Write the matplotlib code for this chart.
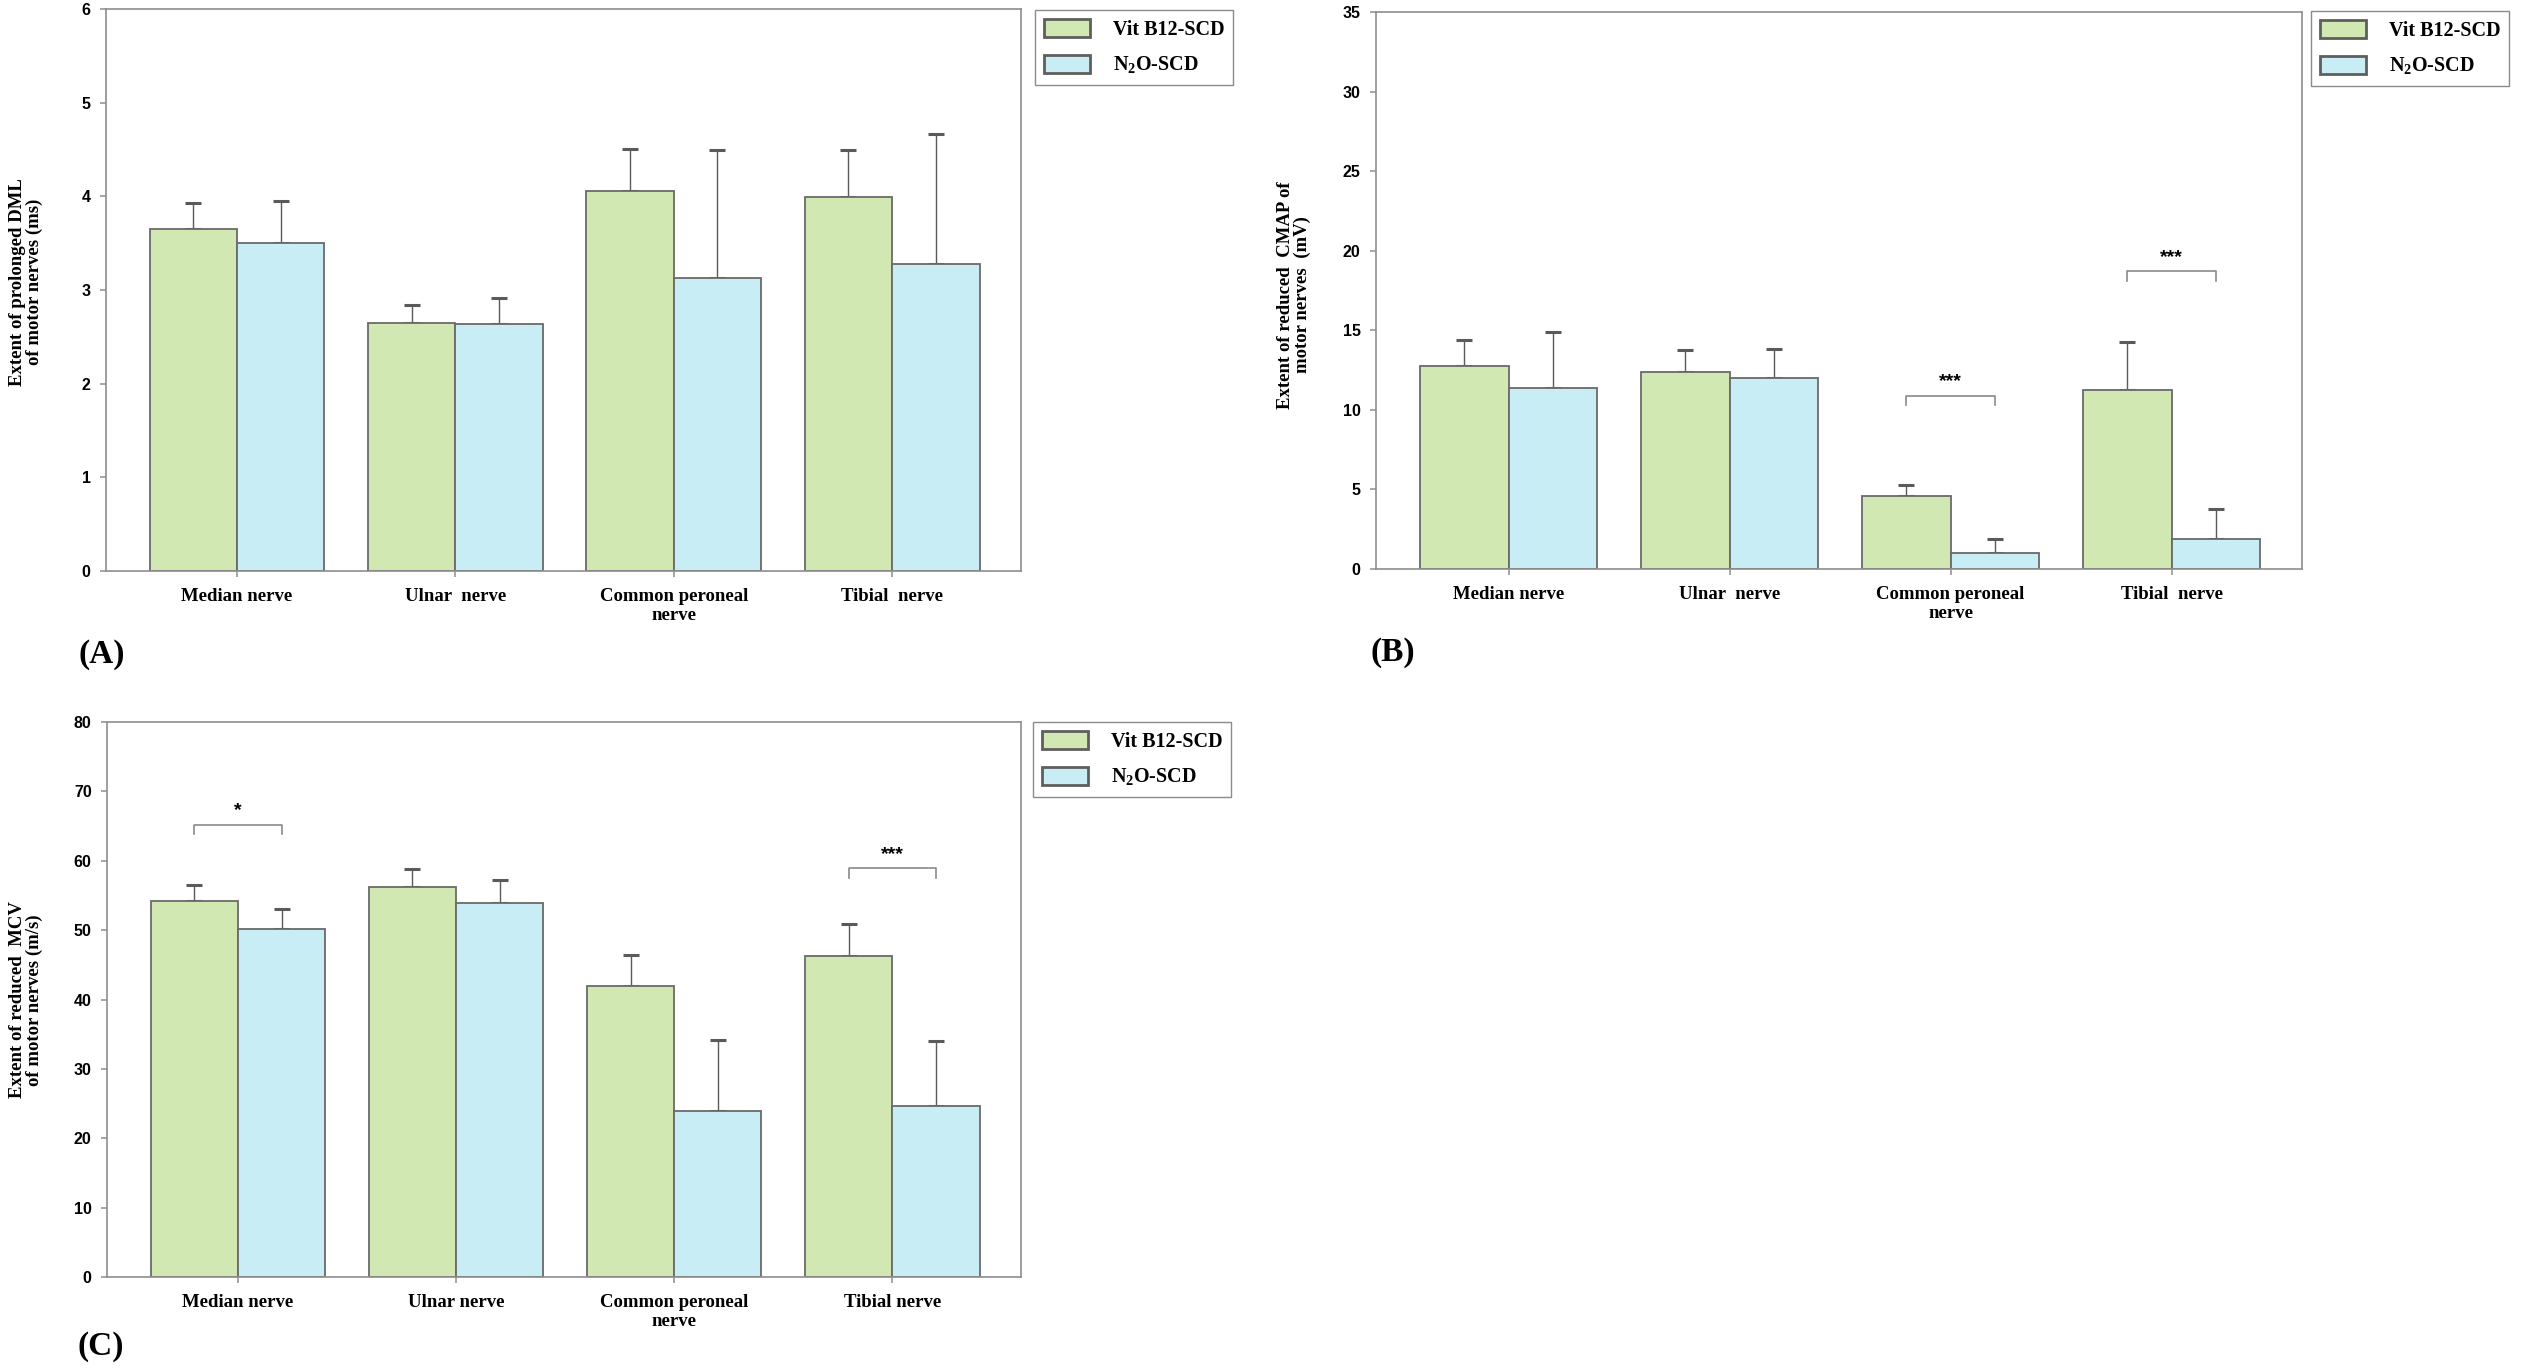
import numpy as np
import matplotlib
matplotlib.use("Agg")
import matplotlib.pyplot as plt

# ---------------- data ----------------
nerves = ["Median nerve", "Ulnar  nerve", "Common peroneal\nnerve", "Tibial  nerve"]
nerves_c = ["Median nerve", "Ulnar nerve", "Common peroneal\nnerve", "Tibial nerve"]
groups = ["Vit B12-SCD", "N$_{2}$O-SCD"]

# (A) DML (ms)
dml_vit = [3.65, 2.65, 4.06, 3.99]
dml_vit_sd = [0.28, 0.19, 0.45, 0.51]
dml_n2o = [3.50, 2.64, 3.13, 3.28]
dml_n2o_sd = [0.45, 0.27, 1.36, 1.39]

# (B) CMAP (mV)
cmap_vit = [12.75, 12.39, 4.61, 11.22]
cmap_vit_sd = [1.66, 1.34, 0.66, 3.03]
cmap_n2o = [11.36, 12.01, 0.98, 1.91]
cmap_n2o_sd = [3.52, 1.83, 0.90, 1.86]
cmap_sig = [(2, 10.9, "***"), (3, 18.7, "***")]

# (C) MCV (m/s)
mcv_vit = [54.2, 56.25, 42.0, 46.3]
mcv_vit_sd = [2.3, 2.55, 4.4, 4.6]
mcv_n2o = [50.2, 53.85, 23.9, 24.6]
mcv_n2o_sd = [2.9, 3.4, 10.2, 9.4]
mcv_sig = [(0, 65.15, "*"), (3, 58.9, "***")]

# ---------------- style ----------------
plt.rcParams['mathtext.fontset'] = 'custom'
plt.rcParams['mathtext.rm'] = 'Liberation Serif:bold'
plt.rcParams['mathtext.bf'] = 'Liberation Serif:bold'

GREEN = "#d1e8b2"
BLUE = "#c9edf4"
EDGE = "#6a6a6a"
SPINE = "#8e8e8e"
SERIF = "Liberation Serif"
SANS = "Liberation Sans"

W, H = 2526, 1369
fig = plt.figure(figsize=(W / 100, H / 100), dpi=100)


def px_axes(x0, y0, x1, y1):
    return fig.add_axes([x0 / W, 1 - y1 / H, (x1 - x0) / W, (y1 - y0) / H])


def draw_panel(ax, vit, vit_sd, n2o, n2o_sd, labels, ymax, step, sig=None):
    x = np.arange(len(labels))
    bw = 0.4
    ax.bar(x - bw / 2, vit, bw, color=GREEN, edgecolor=EDGE, linewidth=1.3,
           label=groups[0], zorder=2)
    ax.bar(x + bw / 2, n2o, bw, color=BLUE, edgecolor=EDGE, linewidth=1.3,
           label=groups[1], zorder=2)
    ax.errorbar(x - bw / 2, vit, yerr=[np.zeros(len(vit)), vit_sd], fmt='none',
                ecolor="#5a5a5a", elinewidth=1.0, capsize=5.5, capthick=2.2, zorder=1)
    ax.errorbar(x + bw / 2, n2o, yerr=[np.zeros(len(n2o)), n2o_sd], fmt='none',
                ecolor="#5a5a5a", elinewidth=1.0, capsize=5.5, capthick=2.2, zorder=1)
    ax.set_xlim(-0.6, 3.59)
    ax.set_ylim(0, ymax)
    ticks = np.arange(0, ymax + step / 2, step)
    ax.set_yticks(ticks)
    ax.set_yticklabels([str(int(v)) for v in ticks],
                       fontfamily=SANS, fontweight='bold', fontsize=11.5)
    ax.set_xticks(x)
    ax.set_xticklabels(labels, fontfamily=SERIF, fontweight='bold', fontsize=13.5,
                       linespacing=1.15)
    ax.tick_params(axis='y', direction='out', length=4, width=1.1, color=SPINE, pad=7)
    ax.tick_params(axis='x', direction='out', length=4, width=1.1, color=SPINE, pad=8)
    for s in ax.spines.values():
        s.set_color(SPINE)
        s.set_linewidth(1.2)
    if sig:
        drop = ymax * 0.017
        for i, yb, txt in sig:
            xs = [i - bw / 2, i - bw / 2, i + bw / 2, i + bw / 2]
            ys = [yb - drop, yb, yb, yb - drop]
            ax.plot(xs, ys, color="#8a8a8a", linewidth=1.2, zorder=3)
            ax.text(i, yb + ymax * 0.010, txt, ha='center', va='bottom',
                    fontfamily=SANS, fontweight='bold', fontsize=14)


def add_legend(ax, x0, y0):
    leg = ax.legend(loc='upper left', bbox_to_anchor=(x0 / W, 1 - y0 / H),
                    bbox_transform=fig.transFigure, borderaxespad=0,
                    fancybox=False, frameon=True, handlelength=2.3, handleheight=1.0,
                    handletextpad=1.1, labelspacing=0.75, borderpad=0.45,
                    prop={'family': SERIF, 'weight': 'bold', 'size': 14.5})
    leg.get_frame().set_edgecolor("#6e6e6e")
    leg.get_frame().set_linewidth(1.0)
    for p in leg.get_patches():
        p.set_edgecolor("#5e5e5e")
        p.set_linewidth(2.0)


# (A)
axA = px_axes(106, 9, 1021, 571)
draw_panel(axA, dml_vit, dml_vit_sd, dml_n2o, dml_n2o_sd, nerves, 6, 1)
add_legend(axA, 1035, 10)
fig.text(26 / W, 1 - 282 / H, "Extent of prolonged DML\nof motor nerves (ms)",
         rotation=90, ha='center', va='center', multialignment='center',
         fontfamily=SERIF, fontweight='bold', fontsize=13.5, linespacing=1.0)
fig.text(102 / W, 1 - 655 / H, "(A)", ha='center', va='center',
         fontfamily=SERIF, fontweight='bold', fontsize=24)

# (B)
axB = px_axes(1376, 12, 2302, 569)
draw_panel(axB, cmap_vit, cmap_vit_sd, cmap_n2o, cmap_n2o_sd, nerves, 35, 5, cmap_sig)
add_legend(axB, 2311, 11)
fig.text(1294 / W, 1 - 295 / H, "Extent of reduced  CMAP of\nmotor nerves  (mV)",
         rotation=90, ha='center', va='center', multialignment='center',
         fontfamily=SERIF, fontweight='bold', fontsize=13.5, linespacing=1.0)
fig.text(1393 / W, 1 - 652 / H, "(B)", ha='center', va='center',
         fontfamily=SERIF, fontweight='bold', fontsize=24)

# (C)
axC = px_axes(107, 722, 1021, 1277)
draw_panel(axC, mcv_vit, mcv_vit_sd, mcv_n2o, mcv_n2o_sd, nerves_c, 80, 10, mcv_sig)
add_legend(axC, 1033, 722)
fig.text(26 / W, 1 - 1000 / H, "Extent of reduced  MCV\nof motor nerves (m/s)",
         rotation=90, ha='center', va='center', multialignment='center',
         fontfamily=SERIF, fontweight='bold', fontsize=13.5, linespacing=1.0)
fig.text(101 / W, 1 - 1346 / H, "(C)", ha='center', va='center',
         fontfamily=SERIF, fontweight='bold', fontsize=24)

fig.savefig("out.png", dpi=100, facecolor='white')
